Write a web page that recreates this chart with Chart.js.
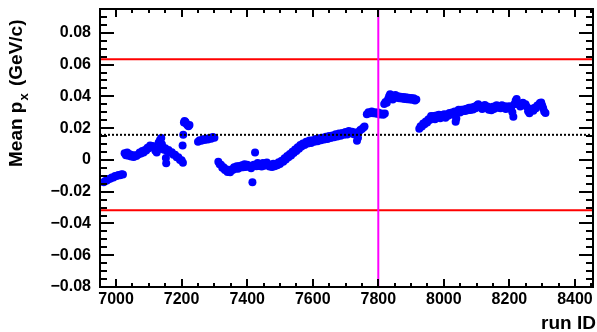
<!DOCTYPE html>
<html>
<head>
<meta charset="utf-8">
<script src="https://cdn.jsdelivr.net/npm/chart.js@4.4.1/dist/chart.umd.min.js"></script>
<style>
  body { margin: 0; background: #fff; }
  #wrap { position: relative; width: 597px; height: 332px; }
</style>
</head>
<body>
<div id="wrap"><canvas id="runChart"></canvas></div>
<script>
// axis ranges and tick labels
const xMin = 6951, xMax = 8455;
const yMin = -0.08, yMax = 0.095;
const xTicks = [7000, 7200, 7400, 7600, 7800, 8000, 8200, 8400];
const yTicks = [-0.08, -0.06, -0.04, -0.02, 0, 0.02, 0.04, 0.06, 0.08];

// reference lines
const meanLine = 0.0158;
const upperLimit = 0.0634;
const lowerLimit = -0.0317;
const markerRun = 7800;

// mean px per run
const runIds = [
  6962, 6967, 6972, 6977, 6982, 6987, 6992, 6997, 7002, 7007, 7012, 7017, 7021,
  7026, 7030, 7034, 7038, 7042, 7046, 7050, 7054, 7058, 7062,
  7068, 7072, 7076, 7080, 7084, 7088, 7092, 7096, 7100, 7104, 7108, 7112,
  7120, 7124, 7128, 7130, 7134, 7138, 7140, 7143, 7146, 7150, 7152, 7153, 7155, 7160, 7165,
  7170, 7175, 7180, 7185, 7190, 7195, 7200, 7204,
  7203, 7205, 7207, 7209, 7212, 7215, 7218, 7221, 7224,
  7250, 7255, 7260, 7265, 7270, 7275, 7280, 7285, 7290, 7295, 7300,
  7312, 7316, 7320, 7324, 7328, 7332, 7336, 7340, 7344, 7348, 7352, 7356, 7360, 7364, 7368,
  7372, 7376, 7380, 7384, 7388, 7392, 7396, 7400, 7404, 7408, 7412, 7416, 7420, 7424, 7428,
  7432, 7436, 7440, 7444, 7448, 7452, 7456, 7460, 7464, 7468, 7472, 7476, 7480, 7484, 7488,
  7492, 7496,
  7500, 7505, 7510, 7514, 7518, 7522, 7526, 7530, 7534, 7538, 7542, 7546, 7550, 7554, 7558,
  7562, 7566, 7570, 7575, 7580, 7585, 7590, 7595, 7600, 7605, 7610, 7615, 7620, 7625, 7630,
  7635, 7640, 7645, 7650, 7655, 7660, 7665, 7670, 7675, 7680, 7685, 7690, 7695, 7700, 7705,
  7710, 7715, 7720, 7725, 7730, 7735, 7738, 7740, 7745, 7750, 7755, 7758,
  7765, 7770, 7775, 7780, 7785, 7790, 7795, 7800, 7805, 7810, 7815, 7820,
  7818, 7822, 7826, 7830, 7833, 7836, 7840, 7844, 7848, 7852, 7856, 7860, 7864, 7868, 7872,
  7876, 7880, 7884, 7888, 7892, 7896, 7900, 7904, 7908, 7912, 7916,
  7925, 7929, 7933, 7937, 7941, 7945, 7949, 7953, 7957, 7961, 7965, 7969, 7973, 7977, 7981,
  7985, 7989, 7993, 7997, 8001, 8005, 8009, 8013, 8017, 8021, 8025, 8029, 8033, 8036, 8038,
  8041, 8045, 8049, 8053, 8057, 8061, 8065, 8069, 8073, 8077, 8081, 8085, 8089, 8093, 8097,
  8101, 8105, 8109, 8113, 8117, 8121, 8125, 8129, 8133, 8137, 8141, 8145, 8149, 8153, 8157,
  8161, 8165, 8169, 8173, 8177, 8181, 8185, 8189, 8193, 8197, 8201, 8205, 8209, 8212, 8215,
  8219, 8222, 8225, 8229, 8233, 8237, 8241, 8245, 8249, 8253, 8257, 8261, 8265, 8269, 8273,
  8277, 8281, 8285, 8289, 8293, 8297, 8300, 8303, 8306, 8310
];
const meanPx = [
  -0.0140, -0.0132, -0.0130, -0.0120, -0.0119, -0.0110, -0.0110, -0.0102, -0.0102, -0.0095, -0.0096, -0.0090, -0.0092,
  0.0042, 0.0030, 0.0046, 0.0026, 0.0036, 0.0022, 0.0030, 0.0018, 0.0030, 0.0024,
  0.0034, 0.0046, 0.0040, 0.0056, 0.0046, 0.0062, 0.0060, 0.0076, 0.0074, 0.0090, 0.0082, 0.0088,
  0.0058, 0.0046, 0.0066, 0.0110, 0.0125, 0.0138, 0.0098, 0.0078, 0.0064, 0.0074, 0.0012, -0.0021, 0.0058, 0.0062, 0.0046,
  0.0048, 0.0032, 0.0032, 0.0016, 0.0016, 0.0000, -0.0002, -0.0018,
  0.0090, 0.0158, 0.0235, 0.0245, 0.0238, 0.0226, 0.0218, 0.0212, 0.0220,
  0.0114, 0.0124, 0.0120, 0.0130, 0.0126, 0.0134, 0.0128, 0.0138, 0.0134, 0.0144, 0.0140,
  -0.0012, -0.0028, -0.0030, -0.0050, -0.0046, -0.0064, -0.0058, -0.0076, -0.0068, -0.0078, -0.0060, -0.0064, -0.0046, -0.0056, -0.0040,
  -0.0056, -0.0038, -0.0048, -0.0034, -0.0046, -0.0028, -0.0044, -0.0030, -0.0040, -0.0036, -0.0052, -0.0140, -0.0030, 0.0046, -0.0040,
  -0.0020, -0.0038, -0.0030, -0.0042, -0.0020, -0.0036, -0.0022, -0.0016, -0.0034, -0.0042, -0.0030, -0.0044, -0.0024, -0.0040, -0.0026,
  -0.0034, -0.0014,
  -0.0026, -0.0006, -0.0012, 0.0010, 0.0002, 0.0024, 0.0016, 0.0038, 0.0028, 0.0052, 0.0044, 0.0066, 0.0056, 0.0080, 0.0070,
  0.0094, 0.0084, 0.0104, 0.0094, 0.0114, 0.0104, 0.0122, 0.0106, 0.0124, 0.0114, 0.0132, 0.0118, 0.0136, 0.0124, 0.0140,
  0.0128, 0.0146, 0.0132, 0.0150, 0.0138, 0.0154, 0.0142, 0.0162, 0.0148, 0.0166, 0.0152, 0.0170, 0.0158, 0.0176, 0.0160,
  0.0182, 0.0168, 0.0178, 0.0162, 0.0172, 0.0120, 0.0140, 0.0176, 0.0188, 0.0194, 0.0204, 0.0210,
  0.0288, 0.0300, 0.0294, 0.0304, 0.0294, 0.0300, 0.0290, 0.0298, 0.0286, 0.0292, 0.0284, 0.0292,
  0.0352, 0.0364, 0.0360, 0.0384, 0.0400, 0.0414, 0.0396, 0.0380, 0.0398, 0.0408, 0.0392, 0.0400, 0.0388, 0.0398, 0.0386,
  0.0396, 0.0384, 0.0394, 0.0382, 0.0392, 0.0380, 0.0390, 0.0378, 0.0388, 0.0374, 0.0380,
  0.0196, 0.0212, 0.0210, 0.0230, 0.0224, 0.0242, 0.0236, 0.0256, 0.0252, 0.0276, 0.0266, 0.0276, 0.0256, 0.0280, 0.0270,
  0.0284, 0.0262, 0.0282, 0.0274, 0.0288, 0.0266, 0.0286, 0.0278, 0.0296, 0.0288, 0.0298, 0.0284, 0.0304, 0.0240, 0.0260,
  0.0300, 0.0316, 0.0298, 0.0316, 0.0306, 0.0318, 0.0308, 0.0322, 0.0312, 0.0328, 0.0314, 0.0330, 0.0318, 0.0334, 0.0326,
  0.0344, 0.0350, 0.0334, 0.0340, 0.0320, 0.0338, 0.0346, 0.0328, 0.0336, 0.0316, 0.0324, 0.0312, 0.0334, 0.0320, 0.0338,
  0.0344, 0.0328, 0.0336, 0.0326, 0.0344, 0.0330, 0.0338, 0.0320, 0.0336, 0.0330, 0.0338, 0.0320, 0.0300, 0.0272, 0.0350,
  0.0372, 0.0384, 0.0352, 0.0350, 0.0336, 0.0352, 0.0360, 0.0346, 0.0350, 0.0334, 0.0306, 0.0294, 0.0316, 0.0322, 0.0310,
  0.0328, 0.0326, 0.0342, 0.0344, 0.0358, 0.0362, 0.0342, 0.0326, 0.0304, 0.0296
];

const FONT = '"Liberation Sans", Arial, Helvetica, sans-serif';

// helper for horizontal reference lines
function hLine(yVal, color, width, dash) {
  return {
    type: 'line',
    data: [{ x: xMin, y: yVal }, { x: xMax, y: yVal }],
    borderColor: color,
    borderWidth: width,
    borderDash: dash || [],
    pointRadius: 0,
    fill: false
  };
}

// ROOT-like frame with inward ticks on all four sides, plus axis titles
const rootFrame = {
  id: 'rootFrame',
  afterDraw(chart) {
    const { ctx, chartArea: a, scales: { x, y } } = chart;
    ctx.save();
    ctx.strokeStyle = '#000';
    ctx.lineWidth = 2;
    ctx.strokeRect(a.left, a.top, a.right - a.left, a.bottom - a.top);

    ctx.beginPath();
    for (let v = 6950; v <= xMax; v += 50) {
      const px = Math.round(x.getPixelForValue(v));
      if (px <= a.left + 1 || px >= a.right - 1) continue;
      const len = xTicks.includes(v) ? 8 : 4;
      ctx.moveTo(px, a.bottom); ctx.lineTo(px, a.bottom - len);
      ctx.moveTo(px, a.top); ctx.lineTo(px, a.top + len);
    }
    for (let i = -16; i <= 19; i++) {
      const v = i * 0.005;
      const py = Math.round(y.getPixelForValue(v));
      if (py >= a.bottom - 1 || py <= a.top + 1) continue;
      const len = i % 4 === 0 ? 14 : 7;
      ctx.moveTo(a.left, py); ctx.lineTo(a.left + len, py);
      ctx.moveTo(a.right, py); ctx.lineTo(a.right - len, py);
    }
    ctx.stroke();

    // y title: Mean p_x (GeV/c)
    ctx.fillStyle = '#000';
    ctx.translate(22, 167);
    ctx.rotate(-Math.PI / 2);
    ctx.textBaseline = 'alphabetic';
    ctx.textAlign = 'left';
    ctx.font = 'bold 19px ' + FONT;
    let pos = 0;
    ctx.fillText('Mean p', pos, 0);
    pos += ctx.measureText('Mean p').width + 1;
    ctx.font = 'bold 13px ' + FONT;
    ctx.fillText('x', pos, 6);
    pos += ctx.measureText('x').width + 2;
    ctx.font = 'bold 19px ' + FONT;
    ctx.fillText(' (GeV/c)', pos, 0);
    ctx.restore();

    // x title
    ctx.save();
    ctx.font = 'bold 19px ' + FONT;
    ctx.fillStyle = '#000';
    ctx.textAlign = 'right';
    ctx.textBaseline = 'alphabetic';
    ctx.fillText('run ID', 596, 329);
    ctx.restore();
  }
};

const ctx = document.getElementById('runChart').getContext('2d');
new Chart(ctx, {
  type: 'scatter',
  data: {
    datasets: [
      {
        type: 'line',
        data: [{ x: markerRun, y: yMin }, { x: markerRun, y: yMax }],
        borderColor: '#ff00ff',
        borderWidth: 2,
        pointRadius: 0,
        fill: false
      },
      hLine(meanLine, '#000000', 2, [2, 2]),
      hLine(upperLimit, '#ff0000', 2),
      hLine(lowerLimit, '#ff0000', 2),
      {
        label: 'Mean px',
        data: runIds.map((r, i) => ({ x: r, y: meanPx[i] })),
        backgroundColor: '#0000ff',
        borderWidth: 0,
        pointRadius: 4,
        pointHoverRadius: 4
      }
    ]
  },
  options: {
    responsive: true,
    maintainAspectRatio: false,
    animation: false,
    events: [],
    layout: { padding: { left: 0, right: 2, top: 9, bottom: 0 } },
    plugins: {
      legend: { display: false },
      tooltip: { enabled: false },
      title: { display: false }
    },
    scales: {
      x: {
        type: 'linear',
        min: xMin,
        max: xMax,
        grid: { display: false, drawTicks: false },
        border: { display: false },
        afterBuildTicks: scale => { scale.ticks = xTicks.map(v => ({ value: v })); },
        afterFit: scale => {
          scale.height = 45;
          scale.paddingLeft = 0;
          scale.paddingRight = 0;
        },
        ticks: {
          padding: 3,
          maxRotation: 0,
          autoSkip: false,
          color: '#000',
          font: { family: FONT, size: 16, weight: 'bold' },
          callback: v => String(v)
        }
      },
      y: {
        type: 'linear',
        min: yMin,
        max: yMax,
        grid: { display: false, drawTicks: false },
        border: { display: false },
        afterBuildTicks: scale => { scale.ticks = yTicks.map(v => ({ value: v })); },
        afterFit: scale => {
          scale.width = 100;
          scale.paddingTop = 0;
          scale.paddingBottom = 0;
        },
        ticks: {
          padding: 9,
          autoSkip: false,
          color: '#000',
          font: { family: FONT, size: 16, weight: 'bold' },
          callback: v => {
            if (Math.abs(v) < 1e-9) return '0';
            return (v < 0 ? '\u2212' : '') + Math.abs(v).toFixed(2);
          }
        }
      }
    }
  },
  plugins: [rootFrame]
});
</script>
</body>
</html>
